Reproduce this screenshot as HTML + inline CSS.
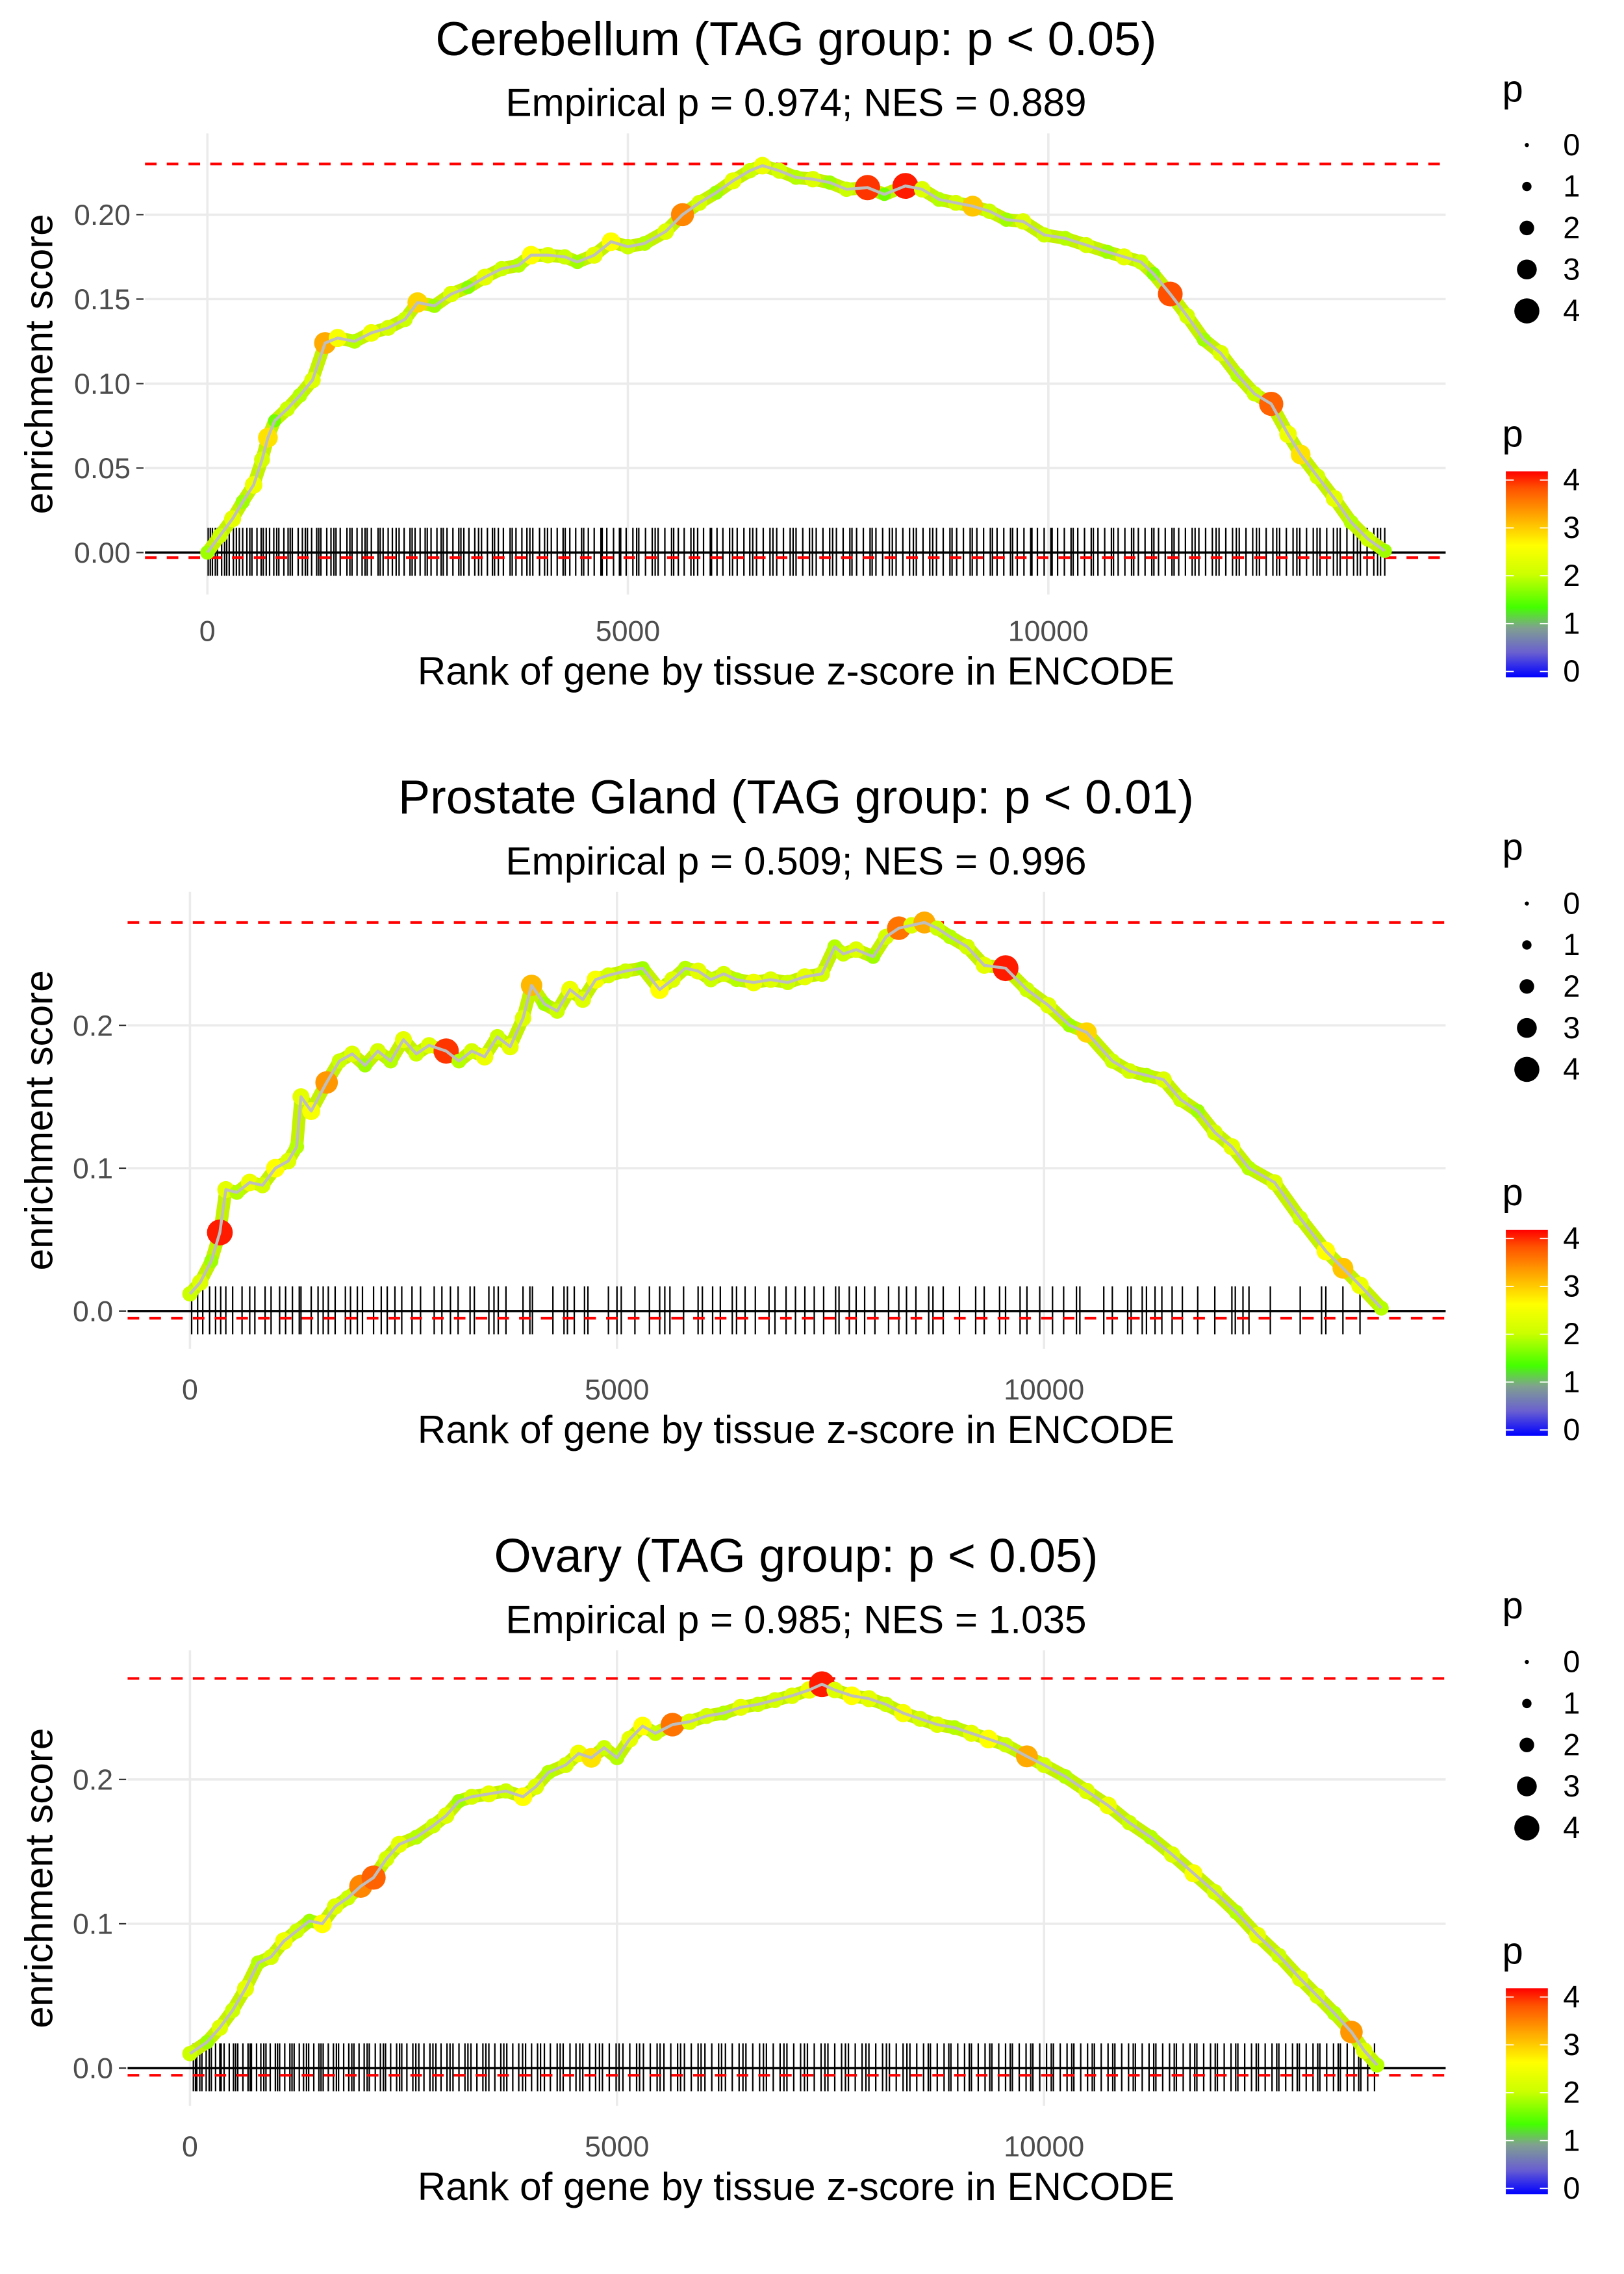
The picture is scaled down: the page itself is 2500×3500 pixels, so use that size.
<!DOCTYPE html>
<html><head><meta charset="utf-8"><style>
html,body{margin:0;padding:0;background:#fff}
svg{display:block}
text{font-family:"Liberation Sans",sans-serif}
</style></head><body>
<svg id="chart" xmlns="http://www.w3.org/2000/svg" width="2500" height="3500" viewBox="0 0 1120 1568" preserveAspectRatio="none">
<defs>
<linearGradient id="pgrad" x1="0" y1="1" x2="0" y2="0">
<stop offset="0" stop-color="#0000ff"/><stop offset="0.12" stop-color="#6a60d0"/><stop offset="0.24" stop-color="#80a090"/>
<stop offset="0.34" stop-color="#44ff00"/><stop offset="0.5" stop-color="#ccff00"/><stop offset="0.64" stop-color="#ffff00"/>
<stop offset="0.78" stop-color="#ffaa00"/><stop offset="0.92" stop-color="#ff5000"/><stop offset="1" stop-color="#ff0000"/>
</linearGradient>
</defs>
</svg>
<script>
// ---- data ----
const p1Titles = ["Cerebellum (TAG group: p < 0.05)", "Empirical p = 0.974; NES = 0.889"];
const p2Titles = ["Prostate Gland (TAG group: p < 0.01)", "Empirical p = 0.509; NES = 0.996"];
const p3Titles = ["Ovary (TAG group: p < 0.05)", "Empirical p = 0.985; NES = 1.035"];
const xTicks = [0, 5000, 10000];
const p1YTicks = [0, 0.05, 0.10, 0.15, 0.20];
const p1YLabels = ["0.00", "0.05", "0.10", "0.15", "0.20"];
const p23YTicks = [0, 0.1, 0.2];
const p23YLabels = ["0.0", "0.1", "0.2"];
const p1Max = 0.230, p1Min = -0.003;
const p2Max = 0.272, p2Min = -0.005;
const p3Max = 0.270, p3Min = -0.005;
const p1Rank = [0,150,300,420,550,650,720,800,950,1100,1250,1400,1550,1750,1950,2150,2350,2500,2700,2900,3100,3300,3500,3700,3850,4050,4250,4400,4600,4800,5000,5200,5450,5650,5850,6050,6250,6450,6600,6800,7000,7200,7400,7600,7850,8050,8300,8500,8700,8900,9100,9300,9500,9700,9950,10200,10450,10700,10900,11100,11250,11450,11650,11850,12050,12250,12450,12650,12850,13000,13200,13400,13600,13800,14000];
const p1ES = [0,0.01,0.02,0.03,0.04,0.055,0.068,0.078,0.085,0.093,0.102,0.124,0.127,0.125,0.13,0.133,0.138,0.148,0.146,0.153,0.157,0.163,0.168,0.17,0.176,0.176,0.175,0.172,0.176,0.184,0.181,0.183,0.19,0.2,0.207,0.213,0.22,0.226,0.229,0.226,0.222,0.221,0.219,0.215,0.216,0.212,0.217,0.215,0.209,0.207,0.205,0.202,0.197,0.196,0.188,0.186,0.182,0.178,0.175,0.172,0.165,0.153,0.14,0.126,0.118,0.105,0.094,0.088,0.07,0.058,0.045,0.032,0.018,0.008,0.001];
const p1P = [1.8,2,2.3,1.8,2.4,2.1,2.8,1.6,2,1.9,2.2,3.2,2.5,1.9,2.4,2.1,2,2.9,1.8,2.2,1.7,2.3,2,1.9,2.6,2.2,2,1.8,2.3,2.6,2,1.9,2.2,3.4,2.1,1.8,2.3,2,2.4,2.1,1.9,2.2,1.8,2,3.8,1.6,3.9,2.2,1.9,2.1,3,2,1.8,2.2,2,1.9,2.1,1.8,2.3,2,1.7,3.7,2.1,1.8,2.2,1.9,2,3.6,2.4,2.8,2.1,2.3,1.9,2,1.8];
const p2Rank = [0,120,250,350,420,550,700,850,1000,1150,1250,1300,1420,1600,1750,1900,2050,2200,2350,2500,2650,2800,3000,3150,3300,3450,3600,3750,3900,4000,4150,4300,4450,4600,4750,4900,5100,5300,5500,5650,5800,5950,6100,6250,6400,6600,6800,7000,7200,7400,7550,7650,7800,8000,8150,8300,8450,8600,8750,8900,9100,9300,9550,9800,10050,10300,10500,10800,11000,11200,11400,11600,11800,12000,12200,12400,12700,13000,13300,13500,13700,13950];
const p2ES = [0.012,0.02,0.035,0.055,0.085,0.083,0.09,0.088,0.1,0.105,0.115,0.15,0.14,0.16,0.175,0.18,0.172,0.182,0.175,0.19,0.18,0.186,0.182,0.175,0.182,0.178,0.192,0.185,0.205,0.228,0.215,0.21,0.225,0.218,0.232,0.235,0.238,0.24,0.225,0.232,0.24,0.238,0.232,0.236,0.232,0.23,0.232,0.23,0.234,0.236,0.255,0.25,0.253,0.248,0.262,0.268,0.27,0.272,0.268,0.262,0.255,0.242,0.24,0.225,0.214,0.2,0.195,0.175,0.168,0.165,0.162,0.148,0.14,0.125,0.115,0.1,0.09,0.065,0.042,0.03,0.018,0.002];
const p2P = [2,2.2,1.8,3.9,2.3,1.9,2.4,2.1,2.6,2.2,1.9,2.3,2.5,3.3,2,2.2,1.8,2.1,1.9,2.3,2,2.2,3.8,1.9,2.1,2.4,2,2.3,2.2,3.1,1.8,2,2.4,2.2,2.5,2.1,2,1.8,2.6,2.2,1.9,2.3,2,2.1,1.9,2.4,2.2,2,2.3,2.1,1.9,2,2.2,1.8,2.1,3.5,2.2,3.2,2,1.9,2.1,2.3,3.9,2,2.2,1.8,2.9,2,2.1,1.9,2.2,2,1.8,2.1,2.3,1.9,2.2,2,2.6,3,2.4,1.9];
const p3Rank = [0,200,350,500,650,800,950,1100,1250,1400,1550,1700,1850,2000,2150,2300,2450,2650,2850,3000,3150,3300,3500,3700,3900,4050,4200,4400,4550,4700,4850,5000,5150,5300,5450,5650,5850,6050,6250,6450,6650,6850,7050,7250,7400,7550,7750,7950,8150,8350,8550,8750,8950,9150,9350,9550,9800,10000,10250,10500,10750,11000,11250,11500,11750,12000,12250,12500,12750,13000,13200,13400,13600,13750,13900];
const p3ES = [0.01,0.018,0.028,0.04,0.055,0.073,0.077,0.088,0.095,0.102,0.1,0.112,0.118,0.126,0.132,0.145,0.155,0.16,0.168,0.175,0.185,0.188,0.19,0.192,0.188,0.195,0.205,0.21,0.218,0.215,0.222,0.215,0.228,0.237,0.232,0.238,0.24,0.244,0.246,0.25,0.252,0.255,0.258,0.262,0.266,0.262,0.258,0.256,0.252,0.246,0.242,0.238,0.236,0.232,0.228,0.224,0.216,0.21,0.202,0.192,0.182,0.17,0.16,0.148,0.135,0.122,0.108,0.092,0.078,0.062,0.05,0.038,0.025,0.012,0.002];
const p3P = [2,1.8,2.2,2,2.3,1.9,2.1,2.4,2,1.8,2.6,2.2,2,3.4,3.6,2.1,2.3,1.9,2,2.2,1.8,2.1,2.3,2,2.6,2.2,1.9,2.1,2.4,2.8,2,1.9,2.3,2.6,2,3.5,2.2,2.1,1.9,2.3,2,2.1,2.2,2.4,3.9,2.2,2.6,2.3,2,2.5,2.1,2.2,1.9,2.3,2.6,2,3.2,2.1,1.9,2.2,2.4,2,1.9,2.2,2.5,2.1,1.9,2.3,2,2.2,2.1,1.9,3.3,2.2,1.9];
const p1Genes = [10,60,120,170,230,260,310,380,420,470,530,590,640,700,740,790,850,910,960,1010,1080,1130,1190,1240,1300,1350,1420,1470,1530,1580,1660,1720,1780,1840,1900,1950,2030,2090,2150,2200,2280,2340,2410,2470,2530,2590,2660,2730,2780,2850,2920,2990,3050,3110,3180,3260,3330,3390,3460,3520,3600,3670,3740,3800,3870,3950,4010,4090,4160,4230,4310,4380,4450,4530,4600,4680,4750,4830,4900,4980,5060,5130,5210,5290,5360,5440,5520,5600,5670,5750,5830,5900,5980,6060,6130,6210,6300,6380,6450,6530,6610,6690,6770,6850,6930,7000,7080,7160,7240,7320,7400,7480,7560,7640,7720,7800,7880,7950,8030,8110,8190,8270,8350,8430,8510,8590,8670,8750,8830,8910,8990,9070,9150,9230,9310,9390,9470,9550,9630,9710,9790,9870,9950,10030,10110,10190,10270,10350,10430,10510,10590,10670,10750,10830,10910,10990,11070,11150,11230,11310,11390,11470,11550,11630,11710,11790,11870,11950,12030,12110,12190,12270,12350,12430,12510,12590,12670,12750,12830,12910,12990,13070,13150,13230,13310,13390,13470,13550,13630,13710,13790,13870,13950,14000,35,95,205,345,505,665,825,985,1165,1325,1505,1695,1875,2055,2245,2435,2615,2805,3015,3225,3415,3625,3835,4045,4255,4475,4695,4915,5105,5325,5545,5785,5995,6245,6485,6725,6965,7195,7435,7665,7905,8145,8395,8625,8855,9095,9335,9575,9805,10045,10295,10535,10775,11015,11255,11495,11745,11995,12235,12475,12715,12955,13195,13435,13675,13915];
const p2Genes = [20,90,150,230,300,360,420,500,610,700,760,880,950,1050,1120,1200,1280,1300,1420,1500,1560,1620,1700,1820,1880,1960,2020,2150,2240,2310,2400,2480,2600,2700,2860,2950,3050,3140,3280,3330,3500,3560,3610,3700,3900,3980,4010,4250,4380,4420,4500,4620,4660,4900,5000,5050,5210,5380,5500,5560,5620,5780,5950,6000,6120,6210,6350,6400,6500,6620,6780,6850,6980,7090,7200,7310,7420,7560,7600,7720,7800,7900,8020,8180,8300,8390,8500,8650,8700,8820,9010,9200,9300,9480,9550,9720,9800,9950,10100,10230,10380,10420,10700,10800,10980,11020,11150,11200,11300,11380,11500,11620,11800,12000,12200,12240,12330,12400,12650,13000,13250,13300,13500,13700];
const p3Genes = [40,80,140,190,250,300,350,400,460,510,560,620,680,720,780,830,890,940,1000,1050,1110,1170,1220,1280,1330,1390,1450,1510,1560,1620,1680,1740,1800,1860,1920,1980,2040,2100,2170,2230,2290,2350,2420,2480,2540,2610,2680,2740,2810,2880,2940,3010,3080,3150,3220,3290,3360,3430,3500,3570,3640,3710,3780,3850,3930,4000,4070,4150,4220,4300,4370,4450,4520,4600,4680,4750,4830,4910,4990,5070,5150,5230,5310,5390,5470,5550,5630,5710,5790,5870,5950,6030,6110,6190,6270,6350,6430,6510,6590,6670,6750,6830,6910,6990,7070,7150,7230,7310,7390,7470,7550,7630,7710,7790,7870,7950,8030,8110,8190,8270,8350,8430,8510,8590,8670,8750,8830,8910,8990,9070,9150,9230,9310,9390,9470,9550,9630,9710,9790,9870,9950,10030,10110,10190,10270,10350,10430,10510,10590,10670,10750,10830,10910,10990,11070,11150,11230,11310,11390,11470,11550,11630,11710,11790,11870,11950,12030,12110,12190,12270,12350,12430,12510,12590,12670,12750,12830,12910,12990,13070,13150,13230,13310,13390,13470,13550,13630,13710,13790,13870,65,115,225,365,535,705,865,1025,1195,1365,1535,1715,1895,2075,2265,2455,2645,2845,3045,3255,3465,3675,3895,4105,4335,4565,4795,5025,5265,5505,5745,5985,6225,6475,6715,6955,7195,7435,7675,7915,8155,8395,8645,8885,9125,9365,9605,9845,10085,10325,10565,10805,11045,11285,11525,11765,12005,12245,12485,12725,12965,13205,13445,13685];
const colorStops = [0, 0.5, 1, 1.4, 2, 2.6, 3.2, 3.7, 4];
const colorHex = ["#0000ff","#6a60d0","#80a090","#44ff00","#ccff00","#ffff00","#ffaa00","#ff5000","#ff0000"];
const sizeLegend = [0, 1, 2, 3, 4];
const barLabels = [4, 3, 2, 1, 0];

// ---- layout ----
const panels = [
  {off:0, left:100, x0:143, kx:0.058, y0:381, ky:1165, gTop:92, gBot:410, titles:p1Titles, yt:p1YTicks, yl:p1YLabels, max:p1Max, min:p1Min, rank:p1Rank, es:p1ES, p:p1P, genes:p1Genes},
  {off:523, left:88, x0:131, kx:0.0589, y0:904, ky:985, gTop:615, gBot:930, titles:p2Titles, yt:p23YTicks, yl:p23YLabels, max:p2Max, min:p2Min, rank:p2Rank, es:p2ES, p:p2P, genes:p2Genes},
  {off:1046, left:88, x0:131, kx:0.0589, y0:1426, ky:995, gTop:1138, gBot:1452, titles:p3Titles, yt:p23YTicks, yl:p23YLabels, max:p3Max, min:p3Min, rank:p3Rank, es:p3ES, p:p3P, genes:p3Genes}
];
const NS = "http://www.w3.org/2000/svg";
const svg = document.getElementById("chart");
function mk(tag, attrs, parent, txt){
  const e = document.createElementNS(NS, tag);
  for (const k in attrs) e.setAttribute(k, attrs[k]);
  if (txt !== undefined) e.textContent = txt;
  (parent || svg).appendChild(e);
  return e;
}
function hex2rgb(h){return [parseInt(h.substr(1,2),16),parseInt(h.substr(3,2),16),parseInt(h.substr(5,2),16)];}
function pColor(v){
  if (v <= colorStops[0]) return colorHex[0];
  for (let i = 1; i < colorStops.length; i++){
    if (v <= colorStops[i]){
      const t = (v - colorStops[i-1]) / (colorStops[i] - colorStops[i-1]);
      const a = hex2rgb(colorHex[i-1]), b = hex2rgb(colorHex[i]);
      return "rgb(" + a.map((c,j)=>Math.round(c + (b[j]-c)*t)).join(",") + ")";
    }
  }
  return colorHex[colorHex.length-1];
}
function pSize(v){ return 1.5 + v * 1.9; }

panels.forEach((P, idx) => {
  const g = mk("g", {});
  
  
  const X = r => P.x0 + r * P.kx;
  const Y = v => P.y0 - v * P.ky;
  const right = 997;
  const t = mk("text", {x:549, y:38+P.off, "font-size":33, "text-anchor":"middle", fill:"#000"}, g, P.titles[0]);
  
  
  const st = mk("text", {x:549, y:80+P.off, "font-size":27, "text-anchor":"middle", fill:"#000"}, g, P.titles[1]);
  
  
  P.yt.forEach(v => {
    const l = mk("line", {x1:P.left, x2:right, y1:Y(v), y2:Y(v), stroke:"#ebebeb", "stroke-width":1.6}, g);
    
    
  });
  xTicks.forEach(v => {
    const l = mk("line", {x1:X(v), x2:X(v), y1:P.gTop, y2:P.gBot, stroke:"#ebebeb", "stroke-width":1.6}, g);
    
    
    const tl = mk("text", {x:X(v), y:P.y0+61, "font-size":20, "text-anchor":"middle", fill:"#4d4d4d"}, g, String(v));
    
    
  });
  P.yt.forEach((v,i) => {
    const tl = mk("text", {x:P.left-10, y:Y(v)+7, "font-size":20, "text-anchor":"end", fill:"#4d4d4d"}, g, P.yl[i]);
    
    
    const tk = mk("line", {x1:P.left-6, x2:P.left-1, y1:Y(v), y2:Y(v), stroke:"#333", "stroke-width":1}, g);
    
    
  });
  const xt = mk("text", {x:549, y:P.y0+91, "font-size":27, "text-anchor":"middle", fill:"#000"}, g, "Rank of gene by tissue z-score in ENCODE");
  
  
  const cy = (P.gTop + P.gBot)/2;
  const yt = mk("text", {x:0, y:0, "font-size":27, "text-anchor":"middle", fill:"#000", transform:"translate(36,"+cy+") rotate(-90)"}, g, "enrichment score");
  
  
  P.genes.forEach(r => {
    const l = mk("line", {x1:X(r), x2:X(r), y1:P.y0-17, y2:P.y0+16, stroke:"#000", "stroke-width":1}, g);
    
    
  });
  const z = mk("line", {x1:P.left, x2:right, y1:P.y0, y2:P.y0, stroke:"#000", "stroke-width":1.6}, g);
  
  
  [P.max, P.min].forEach(v => {
    const d = mk("line", {x1:P.left, x2:right, y1:Y(v), y2:Y(v), stroke:"#ff0000", "stroke-width":1.8, "stroke-dasharray":"8,7"}, g);
    
    
  });
  const pts = P.rank.map((r,i) => X(r).toFixed(2) + "," + Y(P.es[i]).toFixed(2)).join(" ");
  const band = mk("polyline", {points:pts, fill:"none", stroke:"#c4f200", "stroke-width":9, "stroke-linejoin":"round", "stroke-linecap":"round"}, g);
  
  
  P.rank.forEach((r,i) => {
    const c = mk("circle", {cx:X(r), cy:Y(P.es[i]), r:pSize(P.p[i]), fill:pColor(P.p[i])}, g);
    
    
  });
  const line = mk("polyline", {points:pts, fill:"none", stroke:"#bebebe", "stroke-width":2, "stroke-linejoin":"round"}, g);
  
  
  const lg = mk("g", {}, g);
  
  
  mk("text", {x:1036, y:70+P.off, "font-size":26, fill:"#000"}, lg, "p");
  sizeLegend.forEach((v,i) => {
    const yy = 100 + i*28.6 + P.off;
    const c = mk("circle", {cx:1053, cy:yy, r:pSize(v)*0.95, fill:"#000"}, lg);
    
    
    mk("text", {x:1078, y:yy+7, "font-size":21, fill:"#000"}, lg, String(v));
  });
  const cg = mk("g", {}, g);
  
  
  mk("text", {x:1036, y:308+P.off, "font-size":26, fill:"#000"}, cg, "p");
  const bar = mk("rect", {x:1038.5, y:325+P.off, width:29, height:142, fill:"url(#pgrad)"}, cg);
  
  
  barLabels.forEach(v => {
    const yy = 463 - v*33 + P.off;
    mk("line", {x1:1038.5, x2:1044, y1:yy, y2:yy, stroke:"#fff", "stroke-width":0.8}, cg);
    mk("line", {x1:1062, x2:1067.5, y1:yy, y2:yy, stroke:"#fff", "stroke-width":0.8}, cg);
    mk("text", {x:1078, y:yy+7, "font-size":21, fill:"#000"}, cg, String(v));
  });
});
</script>
</body></html>
